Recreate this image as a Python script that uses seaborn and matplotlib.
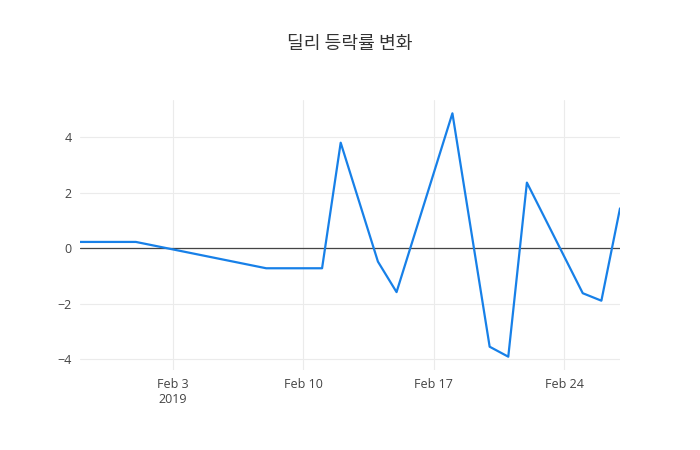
import matplotlib
matplotlib.use("Agg")
import matplotlib.pyplot as plt
import matplotlib.dates as mdates
import seaborn as sns
import pandas as pd

sns.set_theme(style="white")
plt.rcParams['font.family'] = ['Open Sans', 'Noto Sans CJK KR', 'DejaVu Sans']
plt.rcParams['axes.unicode_minus'] = True

dates = ["2019-01-29", "2019-02-01", "2019-02-08", "2019-02-11", "2019-02-12",
         "2019-02-14", "2019-02-15", "2019-02-18", "2019-02-20", "2019-02-21",
         "2019-02-22", "2019-02-25", "2019-02-26", "2019-02-27"]
changes = [0.23, 0.23, -0.72, -0.72, 3.81, -0.48, -1.58, 4.87, -3.55, -3.91,
           2.37, -1.62, -1.89, 1.44]
title = "딜리 등락률 변화"

df = pd.DataFrame({"date": pd.to_datetime(dates), "change": changes})

fig = plt.figure(figsize=(7, 4.5), dpi=100)
ax = fig.add_axes([80/700, 80/450, 540/700, 270/450])

sns.lineplot(data=df, x="date", y="change", ax=ax, color="#1780e8",
             linewidth=1.6, zorder=3)

ax.axhline(0, color="#444444", linewidth=0.9, zorder=2)
ax.set_xlim(df["date"].min(), df["date"].max())
ax.set_ylim(-4.39, 5.35)

ax.set_yticks([-4, -2, 0, 2, 4])
ax.set_yticklabels(["\u22124", "\u22122", "0", "2", "4"])
xt = pd.to_datetime(["2019-02-03", "2019-02-10", "2019-02-17", "2019-02-24"])
ax.set_xticks(xt)
ax.set_xticklabels(["Feb 3\n2019", "Feb 10", "Feb 17", "Feb 24"])

ax.grid(True, color="#ebebeb", linewidth=0.8, zorder=0)
for s in ax.spines.values():
    s.set_visible(False)
ax.tick_params(axis="both", length=0, labelsize=9, colors="#444444", pad=6)
ax.set_xlabel("")
ax.set_ylabel("")

fig.text(0.5, 1 - 44/450, title, ha="center", va="center", fontsize=13.1,
         color="#333333", family=['Noto Sans CJK KR', 'DejaVu Sans'])

fig.savefig("out.png", dpi=100, facecolor="white")
